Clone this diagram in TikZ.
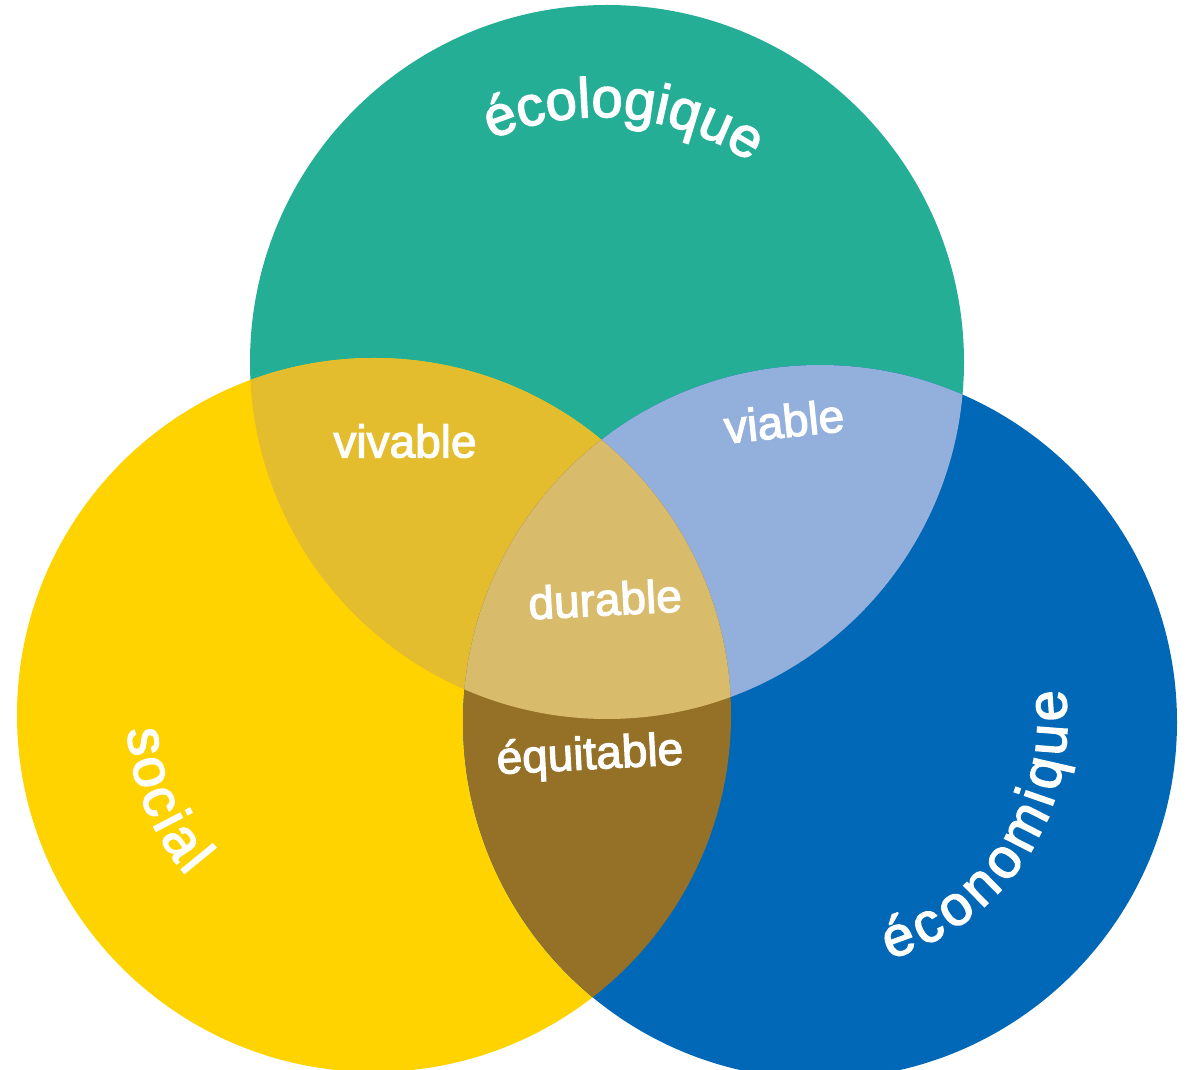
\documentclass[tikz,border=0pt]{standalone}
\usepackage{fontspec}
\setmainfont{Liberation Sans}
\newfontfamily\labfont{Liberation Sans}[FakeBold=2.5]
\usetikzlibrary{decorations.text,calc}
\definecolor{ecocol}{HTML}{25AE96}
\definecolor{soccol}{HTML}{FED300}
\definecolor{econcol}{HTML}{0068B6}
\definecolor{vivcol}{HTML}{E4BD2F}
\definecolor{viacol}{HTML}{93AFDC}
\definecolor{durcol}{HTML}{D9BB6C}
\definecolor{equcol}{HTML}{957027}

\begin{document}
\begin{tikzpicture}[x=1pt, y=1pt,
    small/.style = {text=white, inner sep=0pt, font=\labfont\fontsize{46}{46}\selectfont},
    letter/.style = {text=white, inner sep=0pt, anchor=base, font=\labfont\fontsize{56}{56}\selectfont},
    curved/.style = {decorate, decoration={text along path, text align=center, text color=white, text={|\labfont\fontsize{56}{56}\selectfont|#1}}}]
  \useasboundingbox[fill=white] (0,0) rectangle (1192,1069);
  \coordinate (c_eco) at (607,707);
  \coordinate (c_soc) at (374,354);
  \coordinate (c_econ) at (820,347);

  % the three circles
  \fill[ecocol] (c_eco) circle[radius=357];
  \fill[soccol] (c_soc) circle[radius=357];
  \fill[econcol] (c_econ) circle[radius=357];

  % overlaps
  \begin{scope}
    \clip (c_eco) circle[radius=357];
    \fill[vivcol] (c_soc) circle[radius=357];
    \fill[viacol] (c_econ) circle[radius=357];
  \end{scope}
  \begin{scope}
    \clip (c_soc) circle[radius=357];
    \fill[equcol] (c_econ) circle[radius=357];
    \clip (c_econ) circle[radius=357];
    \fill[durcol] (c_eco) circle[radius=357];
  \end{scope}

  % labels
  \node[small] (l_viv) at (405,628) {vivable};
  \node[small, rotate=6] (l_via) at (784,648) {viable};
  \node[small, rotate=3] (l_dur) at (605,470) {durable};
  \node[small, rotate=3] (l_equ) at (590,312) {équitable};

  \path[curved=écologique] (600,679) ++(130:273) arc[start angle=130, end angle=40, radius=273];
  \foreach \ch/\a [count=\i] in {s/186.6, o/194.3, c/201.9, i/207.5, a/213.4, l/219.3}
    \node[letter, rotate=\a+90] (soc_\i) at ($(c_soc)+(\a:247)$) {\ch};
  \foreach \ch/\a [count=\i] in {é/-70.1, c/-62.1, o/-54.0, n/-45.6, o/-37.3, m/-27.1, i/-19.1, q/-12.8, u/-4.4, e/4.0}
    \node[letter, rotate=\a+90] (econ_\i) at ($(c_econ)+(\a:247)$) {\ch};
\end{tikzpicture}
\end{document}
